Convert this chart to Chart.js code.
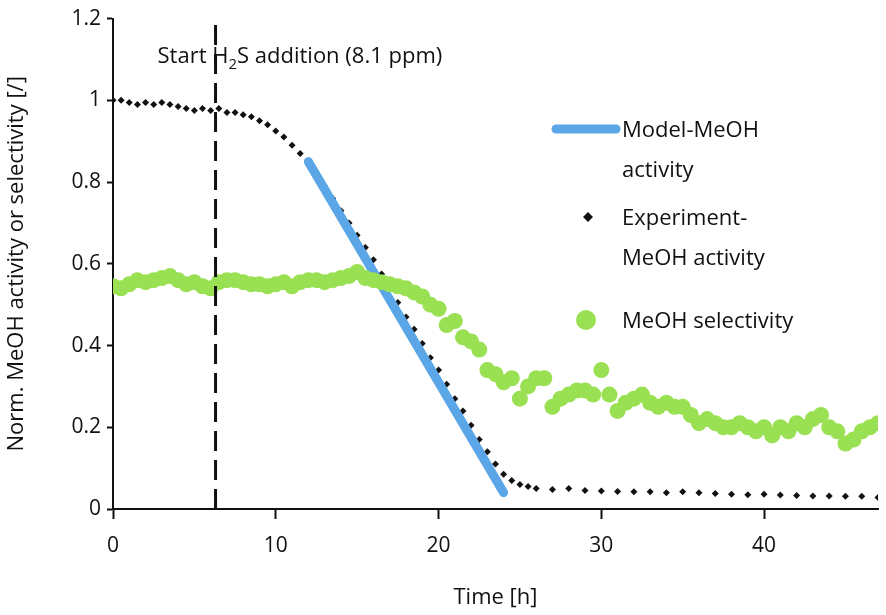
<!DOCTYPE html>
<html><head><meta charset="utf-8">
<script src="https://cdn.jsdelivr.net/npm/chart.js@4"></script>
<style>body{margin:0;background:#fff}#wrap{width:886px;height:615px}</style>
</head><body><div id="wrap"><canvas id="myChart"></canvas></div>
<script>
const expTime = [0,0.5,1,1.5,2,2.5,3,3.5,4,4.5,5,5.5,6,6.5,7,7.5,8,8.5,9,9.5,10,10.5,11,11.5,12,12.5,13,13.5,14,14.5,15,15.5,16,16.5,17,17.5,18,18.5,19,19.5,20,20.5,21,21.5,22,22.5,23,23.5,24,24.5,25,25.5,26,27,28,29,30,31,32,33,34,35,36,37,38,39,40,41,42,43,44,45,46,47];
const expActivity = [1.0,1.0,0.995,0.99,0.995,0.99,0.995,0.99,0.985,0.98,0.975,0.98,0.975,0.98,0.97,0.97,0.965,0.96,0.95,0.94,0.925,0.91,0.89,0.87,0.85,0.82,0.79,0.76,0.73,0.70,0.67,0.64,0.61,0.575,0.54,0.505,0.47,0.44,0.405,0.37,0.34,0.305,0.27,0.24,0.205,0.17,0.14,0.11,0.085,0.07,0.06,0.055,0.05,0.048,0.05,0.045,0.044,0.043,0.042,0.042,0.04,0.042,0.04,0.038,0.036,0.035,0.036,0.034,0.033,0.032,0.032,0.031,0.031,0.028];
const modelTime = [12, 24];
const modelActivity = [0.85, 0.04];
const selTime = [0,0.5,1,1.5,2,2.5,3,3.5,4,4.5,5,5.5,6,6.5,7,7.5,8,8.5,9,9.5,10,10.5,11,11.5,12,12.5,13,13.5,14,14.5,15,15.5,16,16.5,17,17.5,18,18.5,19,19.5,20,20.5,21,21.5,22,22.5,23,23.5,24,24.5,25,25.5,26,26.5,27,27.5,28,28.5,29,29.5,30,30.5,31,31.5,32,32.5,33,33.5,34,34.5,35,35.5,36,36.5,37,37.5,38,38.5,39,39.5,40,40.5,41,41.5,42,42.5,43,43.5,44,44.5,45,45.5,46,46.5,47];
const selectivity = [0.545,0.54,0.55,0.56,0.555,0.56,0.565,0.57,0.56,0.55,0.555,0.545,0.54,0.555,0.56,0.56,0.555,0.55,0.55,0.545,0.55,0.555,0.545,0.555,0.56,0.56,0.555,0.56,0.565,0.57,0.58,0.565,0.56,0.555,0.55,0.545,0.54,0.53,0.52,0.5,0.49,0.45,0.46,0.42,0.41,0.39,0.34,0.33,0.31,0.32,0.27,0.3,0.32,0.32,0.25,0.27,0.28,0.29,0.29,0.28,0.34,0.28,0.24,0.26,0.27,0.28,0.26,0.25,0.26,0.25,0.25,0.23,0.21,0.22,0.21,0.2,0.2,0.21,0.2,0.19,0.2,0.18,0.2,0.19,0.21,0.2,0.22,0.23,0.2,0.19,0.16,0.17,0.19,0.2,0.21];
const startTime = 6.3;
const xTicks = [0,10,20,30,40];
const yTicks = [0,0.2,0.4,0.6,0.8,1,1.2];

const pts = (xs, ys) => xs.map((x, i) => ({x: x, y: ys[i]}));
const FONT = "'Open Sans', 'Liberation Sans', sans-serif";

const overlay = {
  id: 'overlay',
  afterDraw(chart) {
    const c = chart.ctx, xs = chart.scales.x;
    c.save();
    c.fillStyle = '#111';
    c.textBaseline = 'alphabetic';
    c.font = '22px ' + FONT;
    let x = xs.getPixelForValue(startTime) - 58;
    let y = 63;
    const parts = ['Start H', '2', 'S addition (8.1 ppm)'];
    c.fillText(parts[0], x, y); x += c.measureText(parts[0]).width;
    c.font = '15px ' + FONT; c.fillText(parts[1], x, y + 6); x += c.measureText(parts[1]).width;
    c.font = '22px ' + FONT; c.fillText(parts[2], x, y);
    // legend
    c.strokeStyle = '#5aa6e6'; c.lineWidth = 9; c.lineCap = 'round';
    c.beginPath(); c.moveTo(556, 129); c.lineTo(616, 129); c.stroke();
    c.fillStyle = '#111';
    c.beginPath(); c.moveTo(588, 212); c.lineTo(593, 217); c.lineTo(588, 222); c.lineTo(583, 217); c.closePath(); c.fill();
    c.fillStyle = '#99e052';
    c.beginPath(); c.arc(586, 320, 10, 0, Math.PI * 2); c.fill();
    c.fillStyle = '#111'; c.font = '22px ' + FONT;
    c.fillText('Model-MeOH', 622, 137); c.fillText('activity', 622, 177);
    c.fillText('Experiment-', 622, 225); c.fillText('MeOH activity', 622, 265);
    c.fillText('MeOH selectivity', 622, 328);
    c.restore();
  }
};

function initChart(ctx) {
  return new Chart(ctx, {
    type: 'scatter',
    data: {
      datasets: [
        { label: 'start', data: [{x: startTime, y: 0}, {x: startTime, y: 1.2}], showLine: true,
          borderColor: '#111', borderWidth: 3, borderDash: [20, 9], pointRadius: 0 },
        { label: 'MeOH selectivity', data: pts(selTime, selectivity), backgroundColor: '#99e052',
          borderWidth: 0, pointRadius: 8 },
        { label: 'Model-MeOH activity', data: pts(modelTime, modelActivity), showLine: true,
          borderColor: '#5aa6e6', borderWidth: 9, borderCapStyle: 'round', pointRadius: 0 },
        { label: 'Experiment-MeOH activity', data: pts(expTime, expActivity), backgroundColor: '#111',
          borderWidth: 0, pointStyle: 'rectRot', pointRadius: 3.5 }
      ]
    },
    options: {
      animation: false, responsive: true, maintainAspectRatio: false,
      layout: { padding: { top: 15, right: 6 } },
      plugins: { legend: { display: false }, tooltip: { enabled: false } },
      scales: {
        x: { min: 0, max: 47, afterFit: s => { s.height = 106; },
          afterBuildTicks: s => { s.ticks = xTicks.map(v => ({value: v})); },
          grid: { display: true, drawOnChartArea: false, drawTicks: true, tickLength: 10, tickColor: '#111', tickWidth: 2 },
          border: { color: '#111', width: 2 },
          ticks: { color: '#111', font: { family: FONT, size: 21 }, padding: 14 },
          title: { display: true, text: 'Time [h]', color: '#111', font: { family: FONT, size: 22 }, padding: { top: 4 } } },
        y: { min: 0, max: 1.2, afterFit: s => { s.width = 113; },
          afterBuildTicks: s => { s.ticks = yTicks.map(v => ({value: v})); },
          grid: { display: true, drawOnChartArea: false, tickLength: 6, tickColor: '#111', tickWidth: 2 },
          border: { color: '#111', width: 2 },
          ticks: { color: '#111', font: { family: FONT, size: 21 }, padding: 6, callback: v => String(v) },
          title: { display: true, text: 'Norm. MeOH activity or selectivity [/]', color: '#111', font: { family: FONT, size: 22 }, padding: { bottom: 4 } } }
      }
    },
    plugins: [overlay]
  });
}

document.addEventListener('DOMContentLoaded', () => initChart(document.getElementById('myChart')));
</script></body></html>
